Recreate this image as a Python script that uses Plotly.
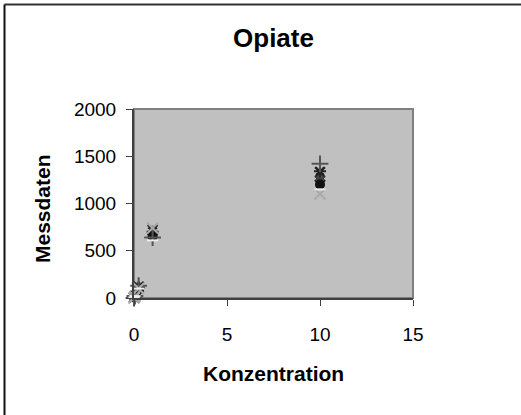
import plotly.graph_objects as go

# Data
konzentration = [0, 0.05, 0.25, 1, 10]
series = {
    "S1": [5, 25, 110, 680, 1240],
    "S2": [10, 30, 120, 660, 1280],
    "S3": [0, 40, 100, 700, 1300],
    "S4": [5, 20, 120, 720, 1330],
    "S5": [0, 30, 110, 700, 1340],
    "S6": [10, 35, 90, 650, 1200],
    "S7": [0, 20, 130, 640, 1420],
    "S8": [0, 15, 100, 740, 1100],
    "S9": [5, 20, 100, 610, 1150],
}
x_ticks = [0, 5, 10, 15]
y_ticks = [0, 500, 1000, 1500, 2000]

styles = {
    "S1": dict(symbol="diamond", color="#202020", size=9),
    "S2": dict(symbol="square", color="#404040", size=8),
    "S3": dict(symbol="triangle-up", color="#505050", size=9),
    "S4": dict(symbol="x-thin", color="#303030", size=10, line=dict(width=2, color="#303030")),
    "S5": dict(symbol="asterisk", color="#202020", size=10, line=dict(width=2, color="#202020")),
    "S6": dict(symbol="circle", color="#111111", size=10),
    "S7": dict(symbol="cross-thin", color="#555555", size=12, line=dict(width=2, color="#555555")),
    "S8": dict(symbol="x-thin", color="#aaaaaa", size=11, line=dict(width=2, color="#aaaaaa")),
    "S9": dict(symbol="line-ew", color="#eeeeee", size=8, line=dict(width=2, color="#eeeeee")),
}

fig = go.Figure()
for name, vals in series.items():
    fig.add_trace(go.Scatter(x=konzentration, y=vals, mode="markers", name=name,
                             marker=styles[name], cliponaxis=False, showlegend=False))

L, R, T, B = 134, 413, 109, 298
W, H = 521, 415
pw, ph = R - L, B - T

def px(x):
    return (x - L) / pw

def py(y):
    return (B - y) / ph

shapes = [
    dict(type="rect", xref="paper", yref="paper", x0=0, x1=1, y0=0, y1=1,
         line=dict(color="#808080", width=2), layer="below"),
    dict(type="line", xref="paper", yref="paper", x0=px(4.5), x1=px(530), y0=py(4.5), y1=py(4.5),
         line=dict(color="#333333", width=2)),
    dict(type="line", xref="paper", yref="paper", x0=px(4.5), x1=px(4.5), y0=py(4.5), y1=py(430),
         line=dict(color="#111111", width=2)),
]

font = "Liberation Sans, Arial, sans-serif"
fig.update_layout(
    width=W, height=H,
    margin=dict(l=L, r=W - R, t=T, b=H - B),
    paper_bgcolor="white", plot_bgcolor="#c0c0c0",
    font=dict(family=font, color="black", size=19),
    title=dict(text="<b>Opiate</b>", x=(L + R) / 2 / W, xanchor="center",
               y=1 - 38 / H, yanchor="middle", yref="container",
               font=dict(size=26, family=font, color="black")),
    shapes=shapes,
    annotations=[
        dict(text="<b>Konzentration</b>", xref="paper", yref="paper", x=0.5, y=py(373),
             xanchor="center", yanchor="middle", showarrow=False, font=dict(size=21, family=font)),
        dict(text="<b>Messdaten</b>", xref="paper", yref="paper", x=px(42), y=py(209),
             xanchor="center", yanchor="middle", showarrow=False, textangle=-90,
             font=dict(size=21, family=font)),
    ],
)
fig.update_xaxes(range=[0, 15], tickvals=x_ticks, showgrid=False, zeroline=False,
                 showline=True, linecolor="#404040", linewidth=2, ticks="outside",
                 ticklen=6, tickcolor="#404040", tickwidth=1, ticklabelstandoff=12,
                 tickfont=dict(size=19))
fig.update_yaxes(range=[0, 2000], tickvals=y_ticks, showgrid=False, zeroline=False,
                 showline=True, linecolor="#404040", linewidth=2, ticks="outside",
                 ticklen=6, tickcolor="#404040", tickwidth=1, ticklabelstandoff=6,
                 tickfont=dict(size=19))

fig.write_html("out.html", config={"displayModeBar": False},
               post_script="document.body.style.margin='0';")
